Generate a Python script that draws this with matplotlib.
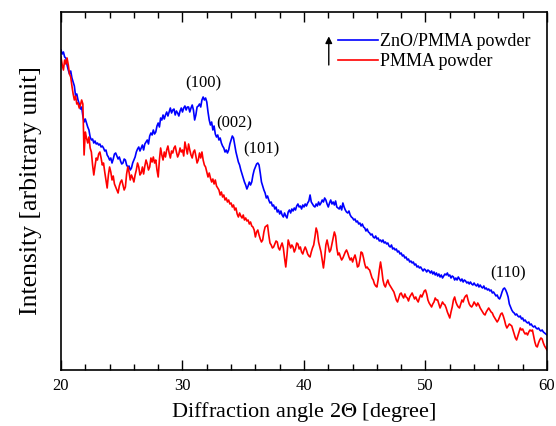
import numpy as np
import matplotlib.pyplot as plt

plt.rcParams['font.family'] = ['Liberation Serif', 'DejaVu Serif']
plt.rcParams['mathtext.fontset'] = 'stix'

# scan grid, 2-theta in degree (step 0.1)
two_theta = np.round(np.arange(20, 60.05, 0.1), 1)

# ZnO/PMMA powder, intensity in arbitrary unit (one row per degree)
zno = [320, 316, 318, 313, 312, 305, 300, 296, 299, 292,   # 20
       288, 284, 274, 276, 270, 266, 261, 263, 254, 248,   # 21
       251, 247, 243, 240, 233, 230, 231, 227, 229, 226,   # 22
       227, 225, 226, 223, 224, 222, 219, 220, 215, 213,   # 23
       210, 212, 207, 211, 216, 217, 214, 211, 213, 209,   # 24
       206, 207, 211, 210, 205, 203, 204, 200, 202, 207,   # 25
       210, 213, 218, 221, 223, 219, 222, 225, 220, 226,   # 26
       228, 230, 226, 234, 237, 235, 240, 236, 238, 244,   # 27
       247, 243, 252, 250, 255, 251, 255, 258, 254, 258,   # 28
       262, 257, 260, 261, 255, 259, 257, 254, 259, 262,   # 29
       258, 262, 264, 260, 263, 263, 258, 262, 265, 260,   # 30
       250, 255, 263, 264, 266, 263, 270, 273, 270, 272,   # 31
       268, 258, 250, 245, 248, 240, 244, 236, 233, 235,   # 32
       230, 232, 227, 224, 222, 218, 220, 217, 220, 226,   # 33
       230, 234, 232, 225, 218, 213, 208, 205, 200, 196,   # 34
       192, 188, 185, 181, 184, 188, 185, 188, 195, 200,   # 35
       203, 206, 207, 205, 197, 188, 184, 180, 177, 172,   # 36
       174, 170, 167, 168, 164, 165, 161, 163, 158, 160,   # 37
       156, 159, 155, 153, 157, 154, 152, 158, 160, 157,   # 38
       161, 159, 162, 160, 164, 166, 163, 164, 161, 165,   # 39
       163, 166, 164, 167, 169, 175, 168, 166, 164, 163,   # 40
       166, 164, 168, 165, 167, 170, 168, 172, 170, 166,   # 41
       163, 167, 170, 166, 168, 165, 169, 163, 162, 161,   # 42
       164, 160, 167, 163, 160, 158, 157, 159, 155, 153,   # 43
       152, 150, 151, 148, 149, 146, 147, 144, 146, 143,   # 44
       142, 139, 141, 138, 137, 135, 136, 133, 132, 134,   # 45
       131, 132, 129, 130, 128, 130, 127, 128, 126, 127,   # 46
       124, 123, 125, 121, 122, 120, 121, 118, 119, 116,   # 47
       117, 114, 115, 112, 113, 110, 111, 108, 109, 107,   # 48
       108, 105, 106, 103, 104, 102, 103, 101, 99, 101,    # 49
       100, 98, 100, 99, 97, 99, 96, 98, 95, 97,           # 50
       94, 96, 93, 95, 92, 94, 96, 95, 97, 94,             # 51
       95, 92, 94, 93, 90, 92, 90, 93, 91, 89,             # 52
       91, 88, 90, 89, 87, 88, 86, 88, 86, 85,             # 53
       87, 85, 84, 86, 83, 85, 83, 82, 84, 81,             # 54
       82, 80, 81, 79, 80, 77, 78, 76, 74, 75,             # 55
       72, 71, 74, 78, 81, 82, 80, 77, 73, 66,             # 56
       63, 60, 58, 57, 55, 56, 54, 53, 54, 51,             # 57
       52, 49, 50, 48, 47, 48, 45, 46, 44, 43,             # 58
       44, 42, 41, 42, 40, 39, 40, 38, 37, 36,             # 59
       35]                                                 # 60

# PMMA powder
pmma = [313, 305, 300, 310, 306, 312, 305, 296, 293, 284,  # 20
        276, 270, 274, 266, 267, 262, 265, 270, 266, 215,  # 21
        238, 232, 227, 233, 222, 218, 205, 195, 204, 212,  # 22
        210, 216, 218, 212, 205, 207, 198, 190, 182, 195,  # 23
        203, 198, 190, 194, 186, 183, 180, 177, 184, 188,  # 24
        190, 185, 180, 183, 196, 203, 198, 190, 195, 192,  # 25
        188, 195, 200, 207, 203, 195, 197, 203, 196, 204,  # 26
        210, 206, 200, 203, 212, 208, 213, 207, 210, 200,  # 27
        193, 210, 222, 215, 210, 218, 213, 220, 224, 217,  # 28
        212, 219, 217, 222, 224, 218, 213, 216, 222, 218,  # 29
        220, 214, 228, 222, 216, 226, 220, 215, 212, 218,  # 30
        220, 214, 207, 210, 217, 212, 218, 210, 205, 203,  # 31
        198, 193, 197, 192, 188, 191, 186, 190, 184, 182,  # 32
        180, 175, 178, 173, 175, 170, 172, 168, 170, 166,  # 33
        167, 163, 165, 160, 162, 156, 153, 157, 154, 152,  # 34
        155, 150, 152, 149, 150, 146, 148, 144, 143, 140,  # 35
        133, 138, 140, 135, 131, 128, 130, 138, 143, 144,  # 36
        145, 135, 127, 125, 122, 123, 126, 129, 128, 122,  # 37
        120, 124, 127, 122, 112, 103, 115, 130, 126, 122,  # 38
        125, 123, 118, 121, 127, 126, 121, 123, 118, 116,  # 39
        120, 123, 120, 116, 114, 113, 118, 122, 125, 133,  # 40
        142, 138, 128, 123, 118, 110, 102, 112, 125, 130,  # 41
        124, 118, 120, 126, 132, 138, 134, 122, 115, 117,  # 42
        113, 110, 112, 115, 118, 120, 117, 113, 110, 112,  # 43
        108, 112, 115, 110, 103, 104, 110, 118, 117, 112,  # 44
        106, 102, 103, 101, 100, 96, 92, 90, 86, 84,       # 45
        83, 90, 100, 108, 100, 90, 85, 83, 87, 90,         # 46
        86, 84, 82, 80, 78, 74, 70, 68, 72, 76,            # 47
        77, 74, 72, 76, 73, 72, 69, 73, 75, 77,            # 48
        74, 71, 73, 70, 68, 72, 75, 73, 76, 79,            # 49
        80, 76, 70, 67, 65, 63, 66, 68, 72, 70,            # 50
        70, 66, 62, 65, 68, 66, 65, 62, 58, 55,            # 51
        52, 58, 63, 70, 73, 68, 65, 63, 62, 66,            # 52
        70, 68, 72, 74, 75, 70, 66, 64, 63, 65,            # 53
        68, 66, 64, 67, 65, 62, 60, 58, 56, 55,            # 54
        58, 60, 62, 60, 58, 57, 54, 52, 50, 48,            # 55
        50, 53, 56, 57, 54, 50, 45, 42, 44, 46,            # 56
        45, 44, 40, 36, 32, 30, 34, 38, 42, 40,            # 57
        41, 38, 36, 37, 35, 38, 40, 39, 40, 34,            # 58
        28, 24, 23, 27, 30, 32, 31, 27, 24, 22,            # 59
        20]                                                # 60

peak_labels = ['(100)', '(002)', '(101)', '(110)']
peak_x = [31.7, 34.3, 36.5, 56.8]
peak_y = [287, 247, 221, 97]

fig = plt.figure(figsize=(5.56, 4.26), dpi=100)
ax = fig.add_axes([0.1097, 0.1315, 0.8741, 0.8403])

ax.plot(two_theta, zno, color='#0000ff', lw=1.2, label='ZnO/PMMA powder')
ax.plot(two_theta, pmma, color='#ff0000', lw=1.2, label='PMMA powder')

for lab, px, py in zip(peak_labels, peak_x, peak_y):
    ax.text(px, py, lab, fontsize=12, ha='center', va='center')

ax.set_xlim(20, 60)
ax.set_ylim(0, 358)
ax.set_xticks([20, 30, 40, 50, 60])
ax.set_xticks(range(20, 61, 2), minor=True)
ax.set_yticks([])
ax.tick_params(axis='x', which='both', direction='in', top=True, labelsize=12, pad=6)
ax.tick_params(axis='x', which='major', length=7, width=1)
ax.tick_params(axis='x', which='minor', length=4, width=1)
for s in ax.spines.values():
    s.set_linewidth(1.2)

ax.set_xlabel(r'Diffraction angle 2$\Theta$ [degree]', fontsize=16, labelpad=4)
ax.set_ylabel('Intensity [arbitrary unit]', fontsize=18.5, labelpad=14)

ax.legend(loc='upper left', bbox_to_anchor=(0.57, 0.94), frameon=False,
          fontsize=13, handlelength=2.2, handletextpad=0.15,
          borderpad=0, borderaxespad=0, labelspacing=0.15)
ax.annotate('', xy=(0.551, 0.932), xytext=(0.551, 0.852), xycoords='axes fraction',
            arrowprops=dict(arrowstyle='-|>', color='black', lw=1, mutation_scale=10,
                            shrinkA=0, shrinkB=0))

fig.savefig('out.png', dpi=100)
